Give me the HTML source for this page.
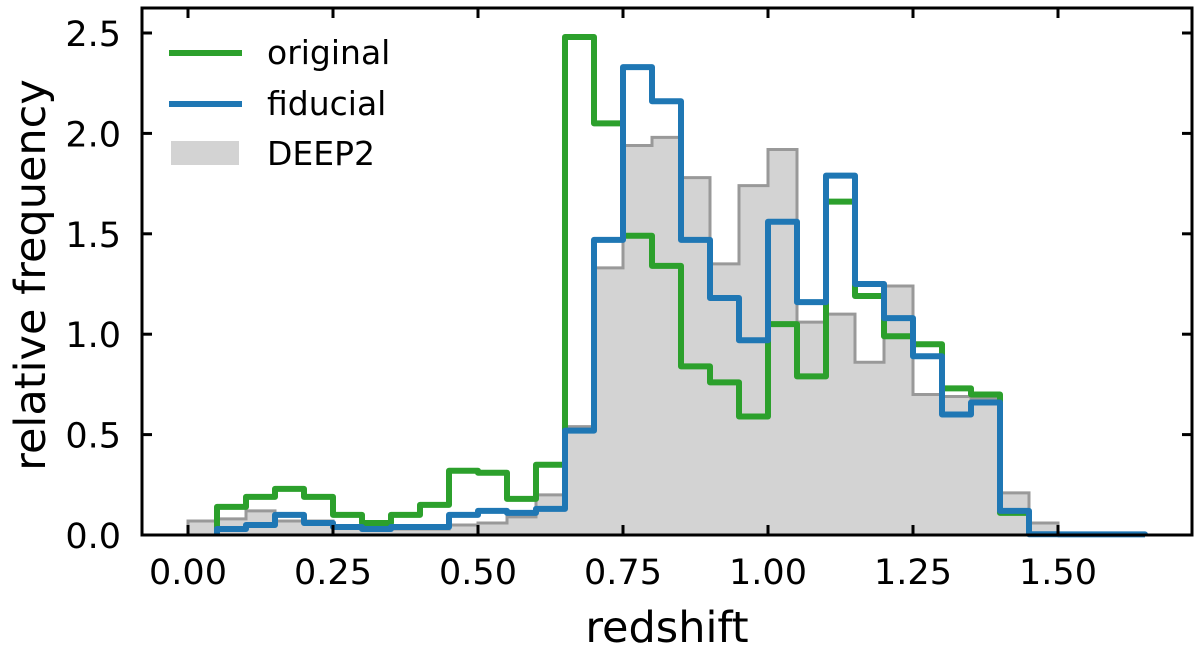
<!DOCTYPE html>
<html><head><meta charset="utf-8"><style>
html,body{margin:0;padding:0;background:#fff;}
svg text{font-family:"DejaVu Sans","Liberation Sans",sans-serif;fill:#000;}
</style></head><body>
<svg id="chart" width="1200" height="650" viewBox="0 0 1200 650" xmlns="http://www.w3.org/2000/svg">
<g id="plot"></g>
<g id="axes"></g>
<g id="legend">
  <line x1="169" y1="53" x2="242" y2="53" stroke="#2ca02c" stroke-width="6"/>
  <text x="267" y="64" font-size="33">original</text>
  <line x1="169" y1="104" x2="242" y2="104" stroke="#1f77b4" stroke-width="6"/>
  <text x="267" y="115" font-size="33">fiducial</text>
  <rect x="171" y="141" width="68" height="24" fill="#d3d3d3"/>
  <text x="267" y="165" font-size="33">DEEP2</text>
</g>
</svg>
<script>
const binEdgesStart = 0.0;
const binWidth = 0.05;
const deep2 = [0.07,0.08,0.12,0.07,0.07,0.04,0.03,0.03,0.03,0.05,0.06,0.09,0.2,0.54,1.33,1.94,1.98,1.78,1.35,1.74,1.92,1.06,1.10,0.86,1.24,0.70,0.69,0.68,0.21,0.06,0.01,0.005,0.005];
const original = [0,0.14,0.19,0.23,0.19,0.10,0.06,0.10,0.15,0.32,0.31,0.18,0.35,2.48,2.05,1.49,1.34,0.84,0.76,0.59,1.05,0.79,1.66,1.19,0.99,0.95,0.73,0.70,0.11,0,0,0,0];
const fiducial = [0,0.03,0.05,0.10,0.06,0.04,0.03,0.04,0.04,0.10,0.12,0.11,0.13,0.52,1.47,2.33,2.16,1.47,1.18,0.97,1.56,1.16,1.79,1.25,1.08,0.89,0.60,0.66,0.12,0.004,0.003,0.003,0.003];
const xTicks = [0,0.25,0.5,0.75,1.0,1.25,1.5];
const xTickLabels = ["0.00","0.25","0.50","0.75","1.00","1.25","1.50"];
const yTicks = [0,0.5,1.0,1.5,2.0,2.5];
const yTickLabels = ["0.0","0.5","1.0","1.5","2.0","2.5"];

const L=142,R=1192,T=8,B=535;
const X = z => 188 + z*580;
const Y = v => 535 - v*200.8;
const NS="http://www.w3.org/2000/svg";
const plot=document.getElementById('plot');
const axes=document.getElementById('axes');
function mk(tag,attrs,parent){const e=document.createElementNS(NS,tag);for(const k in attrs)e.setAttribute(k,attrs[k]);parent.appendChild(e);return e;}

function stepPath(vals,closed,trim){
  let d='';let started=false;
  let first=0,last=vals.length-1;
  if(trim){while(first<vals.length&&vals[first]===0)first++;while(last>first&&vals[last]===0)last--;}
  for(let i=first;i<=last;i++){
    const x0=X(binEdgesStart+i*binWidth),x1=X(binEdgesStart+(i+1)*binWidth),y=Y(vals[i]);
    if(!started){d+=`M${x0},${Y(0)}L${x0},${y}`;started=true;}
    else d+=`L${x0},${y}`;
    d+=`L${x1},${y}`;
    if(i===last)d+=`L${x1},${Y(0)}`;
  }
  if(closed)d+='Z';
  return d;
}
const fill=mk('path',{d:stepPath(deep2,true,false),fill:'#d3d3d3',stroke:'none'},plot);


const gl=mk('path',{d:stepPath(deep2,false,false),fill:'none',stroke:'#999999','stroke-width':3},plot);


const og=mk('path',{d:stepPath(original,false,true),fill:'none',stroke:'#2ca02c','stroke-width':6,'stroke-linejoin':'round'},plot);


const fd=mk('path',{d:stepPath(fiducial,false,true),fill:'none',stroke:'#1f77b4','stroke-width':6,'stroke-linejoin':'round'},plot);



const frame=mk('rect',{x:L,y:T,width:R-L,height:B-T,fill:'none',stroke:'#000','stroke-width':3},axes);


xTicks.forEach((t,i)=>{
  const x=X(t);
  const a=mk('line',{x1:x,y1:B,x2:x,y2:B-10,stroke:'#000','stroke-width':3},axes);
  
  
  const b=mk('line',{x1:x,y1:T,x2:x,y2:T+10,stroke:'#000','stroke-width':3},axes);
  
  
  const tx=mk('text',{x:x,y:584,'font-size':35,'text-anchor':'middle'},axes);
  tx.textContent=xTickLabels[i];
  
  
});
yTicks.forEach((t,i)=>{
  const y=Y(t);
  const a=mk('line',{x1:L,y1:y,x2:L+10,y2:y,stroke:'#000','stroke-width':3},axes);
  
  
  const b=mk('line',{x1:R,y1:y,x2:R-10,y2:y,stroke:'#000','stroke-width':3},axes);
  
  
  const tx=mk('text',{x:121,y:y+13,'font-size':35,'text-anchor':'end'},axes);
  tx.textContent=yTickLabels[i];
  
  
});
const xl=mk('text',{x:667,y:642,'font-size':43,'text-anchor':'middle'},axes);
xl.textContent='redshift';


const yl=mk('text',{x:0,y:0,'font-size':43,'text-anchor':'middle',transform:'translate(45,275) rotate(-90)'},axes);
yl.textContent='relative frequency';


</script>
</body></html>
